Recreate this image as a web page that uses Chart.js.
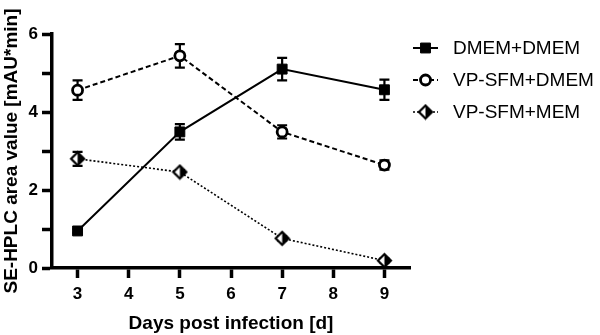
<!DOCTYPE html>
<html>
<head>
<meta charset="utf-8">
<script src="https://cdn.jsdelivr.net/npm/chart.js@4.4.1/dist/chart.umd.min.js"></script>
<style>
    html, body { margin: 0; padding: 0; background: #fff; }
    #wrap { width: 600px; height: 335px; }
</style>
</head>
<body>
<div id="wrap"><canvas id="chart" width="600" height="335"></canvas></div>
<script>
(function(){
    'use strict';

    const days = [3, 5, 7, 9];
    const xTicks = [3, 4, 5, 6, 7, 8, 9];
    const yTicks = [0, 1, 2, 3, 4, 5, 6];
    const yTickLabels = ['0', '', '2', '', '4', '', '6'];
    const seriesNames = ['DMEM+DMEM', 'VP-SFM+DMEM', 'VP-SFM+MEM'];

    const dmemDmem = [0.95, 3.49, 5.10, 4.57];
    const dmemDmemErr = [0.05, 0.20, 0.29, 0.26];
    const vpDmem = [4.56, 5.44, 3.49, 2.64];
    const vpDmemErr = [0.25, 0.30, 0.17, 0.12];
    const vpMem = [2.80, 2.46, 0.76, 0.19];
    const vpMemErr = [0.18, 0.05, 0.05, 0.05];

    const font = "'Liberation Sans', Arial, sans-serif";
    Chart.defaults.color = '#000';
    Chart.defaults.font.family = font;

    // half filled diamond marker
    const diamond = document.createElement('canvas');
    diamond.width = 17;
    diamond.height = 17;
    const dctx = diamond.getContext('2d');
    dctx.fillStyle = '#fff';
    dctx.beginPath();
    dctx.moveTo(8.5, 2); dctx.lineTo(15, 8.5); dctx.lineTo(8.5, 15); dctx.lineTo(2, 8.5); dctx.closePath();
    dctx.fill();
    dctx.fillStyle = '#000';
    dctx.beginPath();
    dctx.moveTo(8.5, 2); dctx.lineTo(15, 8.5); dctx.lineTo(8.5, 15); dctx.closePath();
    dctx.fill();
    dctx.lineWidth = 2.2;
    dctx.strokeStyle = '#000';
    dctx.beginPath();
    dctx.moveTo(8.5, 2); dctx.lineTo(15, 8.5); dctx.lineTo(8.5, 15); dctx.lineTo(2, 8.5); dctx.closePath();
    dctx.stroke();

    function points(ys){
        return days.map(function(d, i){ return {x: d, y: ys[i]}; });
    }

    const errors = [dmemDmemErr, vpDmemErr, vpMemErr];

    const errorBars = {
        id: 'errorBars',
        beforeDatasetsDraw: function(chart){
            const ctx = chart.ctx;
            const xs = chart.scales.x;
            const ys = chart.scales.y;
            ctx.save();
            ctx.strokeStyle = '#000';
            ctx.lineWidth = 2.2;
            chart.data.datasets.forEach(function(ds, i){
                ds.data.forEach(function(p, j){
                    const e = errors[i][j];
                    const px = xs.getPixelForValue(p.x);
                    const top = ys.getPixelForValue(p.y + e);
                    const bot = ys.getPixelForValue(p.y - e);
                    ctx.beginPath();
                    ctx.moveTo(px, top); ctx.lineTo(px, bot);
                    ctx.moveTo(px - 5, top); ctx.lineTo(px + 5, top);
                    ctx.moveTo(px - 5, bot); ctx.lineTo(px + 5, bot);
                    ctx.stroke();
                });
            });
            ctx.restore();
        }
    };

    const sideLegend = {
        id: 'sideLegend',
        afterDraw: function(chart){
            const ctx = chart.ctx;
            const left = chart.chartArea.right + 3;
            const top = chart.chartArea.top;
            const rows = [14, 46, 78];
            ctx.save();
            chart.data.datasets.forEach(function(ds, i){
                const y = top + rows[i];
                ctx.strokeStyle = '#000';
                ctx.lineWidth = ds.borderWidth;
                ctx.setLineDash(ds.borderDash || []);
                ctx.beginPath();
                ctx.moveTo(left, y); ctx.lineTo(left + 25, y);
                ctx.stroke();
                ctx.setLineDash([]);
                ctx.fillStyle = ds.pointBackgroundColor;
                ctx.lineWidth = ds.pointBorderWidth;
                Chart.helpers.drawPoint(ctx, {
                    pointStyle: ds.pointStyle,
                    radius: ds.pointRadius,
                    rotation: 0,
                    borderWidth: ds.pointBorderWidth
                }, left + 12.5, y);
                ctx.fillStyle = '#000';
                ctx.font = '19px ' + font;
                ctx.textBaseline = 'middle';
                ctx.textAlign = 'left';
                ctx.fillText(ds.label, left + 40, y + 1);
            });
            ctx.restore();
        }
    };

    new Chart(document.querySelector('#chart'), {
        type: 'line',
        data: {
            datasets: [
                {
                    label: seriesNames[0],
                    data: points(dmemDmem),
                    borderColor: '#000',
                    borderWidth: 2,
                    pointStyle: 'rect',
                    pointRadius: 7,
                    pointBackgroundColor: '#000',
                    pointBorderColor: '#000',
                    pointBorderWidth: 1,
                    tension: 0
                },
                {
                    label: seriesNames[1],
                    data: points(vpDmem),
                    borderColor: '#000',
                    borderWidth: 2,
                    borderDash: [5, 3],
                    pointStyle: 'circle',
                    pointRadius: 5,
                    pointBackgroundColor: '#fff',
                    pointBorderColor: '#000',
                    pointBorderWidth: 2.8,
                    tension: 0
                },
                {
                    label: seriesNames[2],
                    data: points(vpMem),
                    borderColor: '#000',
                    borderWidth: 1.6,
                    borderDash: [2, 2],
                    pointStyle: diamond,
                    pointRadius: 7,
                    pointBackgroundColor: '#000',
                    pointBorderColor: '#000',
                    pointBorderWidth: 0,
                    tension: 0
                }
            ]
        },
        options: {
            responsive: false,
            animation: false,
            events: [],
            layout: { padding: { top: 34, right: 190, left: 0, bottom: 0 } },
            plugins: {
                legend: { display: false },
                tooltip: { enabled: false }
            },
            scales: {
                x: {
                    type: 'linear',
                    min: 2.5,
                    max: 9.5,
                    afterBuildTicks: function(scale){
                        scale.ticks = xTicks.map(function(v){ return {value: v}; });
                    },
                    afterFit: function(scale){ scale.height = 67; },
                    border: { display: true, color: '#000', width: 3.5 },
                    grid: {
                        drawOnChartArea: false,
                        drawTicks: true,
                        tickLength: 10,
                        tickWidth: 3.5,
                        tickColor: '#000'
                    },
                    ticks: {
                        padding: 6,
                        font: { size: 17, weight: 'bold' },
                        maxRotation: 0
                    },
                    title: {
                        display: true,
                        text: 'Days post infection [d]',
                        font: { size: 19, weight: 'bold' },
                        padding: { top: 0, bottom: 0 }
                    }
                },
                y: {
                    min: 0,
                    max: 6,
                    afterBuildTicks: function(scale){
                        scale.ticks = yTicks.map(function(v){ return {value: v}; });
                    },
                    afterFit: function(scale){ scale.width = 52; },
                    border: { display: true, color: '#000', width: 3.5 },
                    grid: {
                        drawOnChartArea: false,
                        drawTicks: true,
                        tickLength: 10,
                        tickWidth: 3.5,
                        tickColor: '#000'
                    },
                    ticks: {
                        padding: 4,
                        font: { size: 17, weight: 'bold' },
                        callback: function(v, i){ return yTickLabels[i]; }
                    },
                    title: {
                        display: true,
                        text: 'SE-HPLC area value [mAU*min]',
                        font: { size: 19, weight: 'bold' },
                        padding: { top: 0, bottom: 0 }
                    }
                }
            }
        },
        plugins: [errorBars, sideLegend]
    });
})();
</script>
</body>
</html>
